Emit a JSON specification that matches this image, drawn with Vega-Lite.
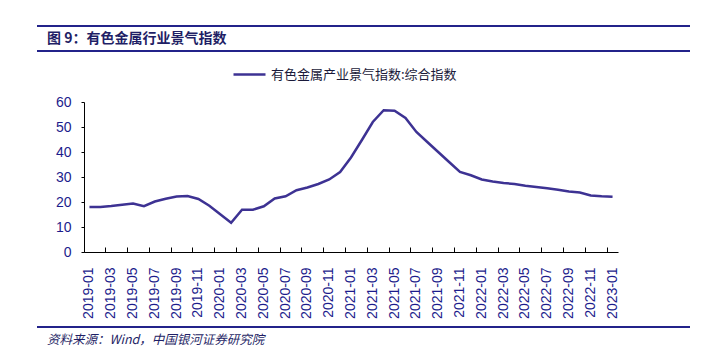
{
  "$schema": "https://vega.github.io/schema/vega-lite/v6.json",
  "padding": {"left": 37, "top": 25, "right": 0, "bottom": 0},
  "background": "white",
  "spacing": 5,
  "align": "none",
  "resolve": {"legend": {"color": "independent"}},
  "config": {"view": {"stroke": null}},
  "vconcat": [
    {
      "width": 653, "height": 2,
      "data": {"values": [{}]},
      "mark": {"type": "rect", "color": "#23238a"}
    },
    {
      "width": 653, "height": 2,
      "data": {"values": [{}]},
      "mark": {"type": "rect", "color": "#23238a"},
      "title": {
        "text": "图 9：有色金属行业景气指数",
        "orient": "top", "anchor": "start", "dx": 10, "offset": 4,
        "font": "Noto Sans CJK SC", "fontSize": 14, "fontWeight": "bold", "color": "#1f1f66"
      }
    },
    {
      "width": 581, "height": 150,
      "data": {"values": [
        {"month": "2019-01", "value": 18.0},
        {"month": "2019-02", "value": 18.0},
        {"month": "2019-03", "value": 18.4},
        {"month": "2019-04", "value": 18.9},
        {"month": "2019-05", "value": 19.4},
        {"month": "2019-06", "value": 18.3},
        {"month": "2019-07", "value": 20.2},
        {"month": "2019-08", "value": 21.3},
        {"month": "2019-09", "value": 22.2},
        {"month": "2019-10", "value": 22.4},
        {"month": "2019-11", "value": 21.2},
        {"month": "2019-12", "value": 18.5},
        {"month": "2020-01", "value": 15.1},
        {"month": "2020-02", "value": 11.7},
        {"month": "2020-03", "value": 16.9},
        {"month": "2020-04", "value": 16.9},
        {"month": "2020-05", "value": 18.3},
        {"month": "2020-06", "value": 21.4},
        {"month": "2020-07", "value": 22.3},
        {"month": "2020-08", "value": 24.7},
        {"month": "2020-09", "value": 25.8},
        {"month": "2020-10", "value": 27.2},
        {"month": "2020-11", "value": 29.0},
        {"month": "2020-12", "value": 32.0},
        {"month": "2021-01", "value": 37.8},
        {"month": "2021-02", "value": 44.8},
        {"month": "2021-03", "value": 52.0},
        {"month": "2021-04", "value": 56.7},
        {"month": "2021-05", "value": 56.5},
        {"month": "2021-06", "value": 53.6},
        {"month": "2021-07", "value": 48.0},
        {"month": "2021-08", "value": 44.0},
        {"month": "2021-09", "value": 40.0},
        {"month": "2021-10", "value": 36.0},
        {"month": "2021-11", "value": 32.0},
        {"month": "2021-12", "value": 30.7},
        {"month": "2022-01", "value": 29.0},
        {"month": "2022-02", "value": 28.2},
        {"month": "2022-03", "value": 27.6},
        {"month": "2022-04", "value": 27.2},
        {"month": "2022-05", "value": 26.5},
        {"month": "2022-06", "value": 26.0},
        {"month": "2022-07", "value": 25.5},
        {"month": "2022-08", "value": 24.9},
        {"month": "2022-09", "value": 24.2},
        {"month": "2022-10", "value": 23.8},
        {"month": "2022-11", "value": 22.6},
        {"month": "2022-12", "value": 22.3},
        {"month": "2023-01", "value": 22.1}
      ]},
      "mark": {"type": "line", "strokeWidth": 2.5},
      "encoding": {
        "x": {
          "field": "month", "type": "ordinal", "sort": null,
          "scale": {"type": "band", "range": [47, 581], "paddingInner": 0, "paddingOuter": 0},
          "axis": {
            "values": ["2019-01","2019-03","2019-05","2019-07","2019-09","2019-11","2020-01","2020-03","2020-05","2020-07","2020-09","2020-11","2021-01","2021-03","2021-05","2021-07","2021-09","2021-11","2022-01","2022-03","2022-05","2022-07","2022-09","2022-11","2023-01"],
            "bandPosition": 0, "tickSize": -5, "tickColor": "#000000", "domainColor": "#000000",
            "labelAngle": -90, "labelFont": "Liberation Sans", "labelFontSize": 14, "labelColor": "#1c1c8c",
            "labelPadding": 20, "labelOverlap": false, "labelBound": false, "title": null, "grid": false,
            "minExtent": 69
          }
        },
        "y": {
          "field": "value", "type": "quantitative",
          "scale": {"domain": [0, 60]},
          "axis": {
            "values": [0, 10, 20, 30, 40, 50, 60], "offset": -47, "tickSize": 3, "labelPadding": 10,
            "labelFont": "Liberation Sans", "labelFontSize": 14, "labelColor": "#1c1c8c",
            "domainColor": "#000000", "tickColor": "#000000", "grid": false, "title": null
          }
        },
        "color": {
          "datum": "有色金属产业景气指数:综合指数",
          "scale": {"range": ["#3d3293"]},
          "legend": {
            "orient": "none", "legendX": 195, "legendY": -45, "title": null,
            "symbolType": "stroke", "symbolSize": 1024, "symbolStrokeWidth": 2.5,
            "labelFont": "Noto Sans CJK SC", "labelFontSize": 13, "labelColor": "#1a1a3a",
            "labelOffset": 4, "labelLimit": 0, "padding": 0
          }
        }
      }
    },
    {
      "width": 653, "height": 2,
      "data": {"values": [{}]},
      "mark": {"type": "rect", "color": "#23238a"},
      "title": {
        "text": "资料来源：Wind，中国银河证券研究院",
        "orient": "bottom", "anchor": "start", "dx": 10, "offset": 6,
        "font": "Noto Sans CJK SC", "fontSize": 12.5, "fontWeight": "normal", "fontStyle": "italic", "color": "#1f1f66"
      }
    }
  ]
}
